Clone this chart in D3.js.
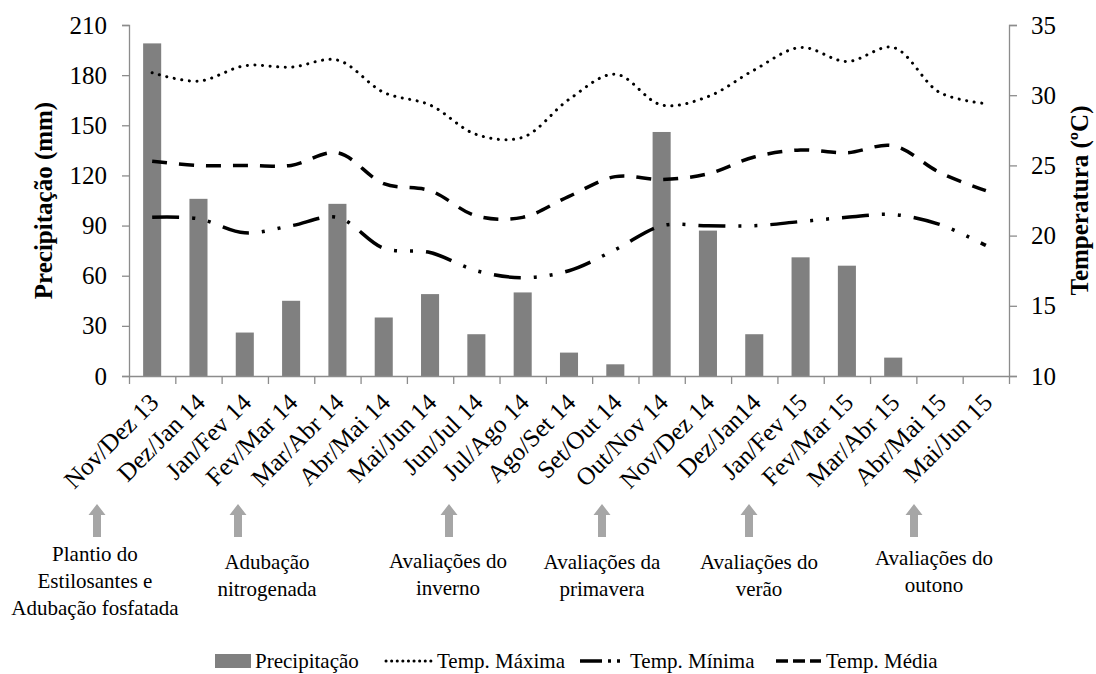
<!DOCTYPE html>
<html><head><meta charset="utf-8">
<script src="https://cdn.jsdelivr.net/npm/d3@7"></script>
<style>
body{margin:0;background:#fff}
svg{display:block}
text{font-family:"Liberation Serif","Times New Roman",serif;fill:#000}
</style>
</head><body>
<svg id="chart" width="1096" height="674"></svg>
<script>
// ---- data ----
const categories = ["Nov/Dez 13","Dez/Jan 14","Jan/Fev 14","Fev/Mar 14","Mar/Abr 14","Abr/Mai 14","Mai/Jun 14","Jun/Jul 14","Jul/Ago 14","Ago/Set 14","Set/Out 14","Out/Nov 14","Nov/Dez 14","Dez/Jan14","Jan/Fev 15","Fev/Mar 15","Mar/Abr 15","Abr/Mai 15","Mai/Jun 15"];
const precipitacao = [199,106,26,45,103,35,49,25,50,14,7,146,87,25,71,66,11,0,0];
const tempMaxima = [31.6,31.0,32.1,32.0,32.5,30.2,29.3,27.2,27.0,29.7,31.5,29.3,29.9,31.8,33.4,32.4,33.4,30.2,29.4];
const tempMinima = [21.3,21.2,20.2,20.7,21.3,19.1,18.8,17.5,17.0,17.5,19.0,20.7,20.7,20.7,21.0,21.3,21.5,20.8,19.3];
const tempMedia  = [25.3,25.0,25.0,25.0,25.9,23.7,23.2,21.4,21.3,22.8,24.2,24.0,24.4,25.6,26.1,25.9,26.4,24.5,23.2];
const precipTicks = [0,30,60,90,120,150,180,210];
const tempTicks = [10,15,20,25,30,35];
const notes = [
  ["Plantio do","Estilosantes e","Adubação fosfatada"],
  ["Adubação","nitrogenada"],
  ["Avaliações do","inverno"],
  ["Avaliações da","primavera"],
  ["Avaliações do","verão"],
  ["Avaliações do","outono"]
];
const legendLabels = ["Precipitação","Temp. Máxima","Temp. Mínima","Temp. Média"];

// ---- layout ----
const L = 129, R = 1009, T = 25, B = 376;
const axisColor = "#8c8c8c";
const svg = d3.select("#chart");

const x = d3.scaleBand().domain(categories).range([L, R]).paddingInner(0.61).paddingOuter(0.305);
const xb = d3.scaleLinear().domain([0, categories.length]).range([L, R]);
const yP = d3.scaleLinear().domain([0, 210]).range([B, T]);
const yT = d3.scaleLinear().domain([10, 35]).range([B, T]);
const cx = c => x(c) + x.bandwidth() / 2;

// bars
svg.append("g").selectAll("rect").data(categories).join("rect")
  .attr("x", d => x(d)).attr("width", x.bandwidth())
  .attr("y", (d, i) => yP(precipitacao[i]))
  .attr("height", (d, i) => B - yP(precipitacao[i]))
  .attr("fill", "#808080");

// axes
function styleAxis(g) {
  g.selectAll("path.domain").attr("stroke", axisColor).attr("stroke-width", 1.3);
  g.selectAll(".tick line").attr("stroke", axisColor).attr("stroke-width", 1.3);
  g.selectAll("text").style("font-family", '"Liberation Serif",serif').style("font-size", "25px").attr("fill", "#000");
}
svg.append("g").attr("transform", `translate(${L},0)`)
  .call(d3.axisLeft(yP).tickValues(precipTicks).tickSize(7).tickSizeOuter(7).tickPadding(15))
  .call(styleAxis);
svg.append("g").attr("transform", `translate(${R},0)`)
  .call(d3.axisRight(yT).tickValues(tempTicks).tickSize(8).tickSizeOuter(8).tickPadding(14))
  .call(styleAxis);
svg.append("g").attr("transform", `translate(0,${B})`)
  .call(d3.axisBottom(xb).tickValues(d3.range(categories.length + 1)).tickFormat("").tickSize(8).tickSizeOuter(0))
  .call(styleAxis);

// x labels
svg.append("g").selectAll("text").data(categories).join("text")
  .attr("transform", d => `translate(${cx(d) + 8},${B + 28}) rotate(-45)`)
  .attr("text-anchor", "end")
  .style("font-size", "25px")
  .text(d => d);

// axis titles
svg.append("text").attr("transform", `translate(52,${(T + B) / 2}) rotate(-90)`)
  .attr("text-anchor", "middle").style("font-size", "25px").style("font-weight", "bold")
  .text("Precipitação (mm)");
svg.append("text").attr("transform", `translate(1088,${(T + B) / 2}) rotate(-90)`)
  .attr("text-anchor", "middle").style("font-size", "25px").style("font-weight", "bold")
  .text("Temperatura (ºC)");

// lines
const line = arr => d3.line()
  .x((d, i) => cx(categories[i]))
  .y(d => yT(d))
  .curve(d3.curveCatmullRom.alpha(0.5))(arr);
const styles = [
  {data: tempMaxima, dash: "0.1,7.5", legendDash: "0.1,5.5", cap: "round", w: 3},
  {data: tempMinima, dash: "27,13,3,13,3,13", legendDash: "22,6,3,6,3,40", cap: "butt", w: 3.5},
  {data: tempMedia,  dash: "15,12", legendDash: "12,5", cap: "butt", w: 3.5}
];
styles.forEach(s => {
  svg.append("path").attr("d", line(s.data)).attr("fill", "none")
    .attr("stroke", "#000").attr("stroke-width", s.w)
    .attr("stroke-dasharray", s.dash).attr("stroke-linecap", s.cap);
});

// annotations
const noteX = [95, 267, 448, 602, 759, 934];
const arrowX = [97, 238, 449, 602, 749, 914];
const noteY = [561, 569, 568, 569, 569, 565];
arrowX.forEach(ax => {
  const top = 504, bot = 537;
  svg.append("path")
    .attr("d", `M${ax},${top} L${ax + 8.5},${top + 11} L${ax + 4},${top + 11} L${ax + 4},${bot} L${ax - 4},${bot} L${ax - 4},${top + 11} L${ax - 8.5},${top + 11} Z`)
    .attr("fill", "#a6a6a6");
});
notes.forEach((lines, k) => {
  const t = svg.append("text").attr("text-anchor", "middle").style("font-size", "21px");
  lines.forEach((s, j) => t.append("tspan").attr("x", noteX[k]).attr("y", noteY[k] + j * 27).text(s));
});

// legend
const ly = 661;
const lg = svg.append("g");
lg.append("rect").attr("x", 215).attr("y", ly - 7).attr("width", 36).attr("height", 14).attr("fill", "#808080");
lg.append("text").attr("x", 255).attr("y", ly + 7).style("font-size", "21px").text(legendLabels[0]);
const legendItems = [
  {x0: 386, tx: 437, s: styles[0], lab: legendLabels[1]},
  {x0: 580, tx: 630, s: styles[1], lab: legendLabels[2]},
  {x0: 776, tx: 826, s: styles[2], lab: legendLabels[3]}
];
legendItems.forEach(it => {
  lg.append("line").attr("x1", it.x0).attr("x2", it.tx - 5).attr("y1", ly).attr("y2", ly)
    .attr("stroke", "#000").attr("stroke-width", it.s.w)
    .attr("stroke-dasharray", it.s.legendDash).attr("stroke-linecap", it.s.cap);
  lg.append("text").attr("x", it.tx).attr("y", ly + 7).style("font-size", "21px").text(it.lab);
});
</script>
</body></html>
